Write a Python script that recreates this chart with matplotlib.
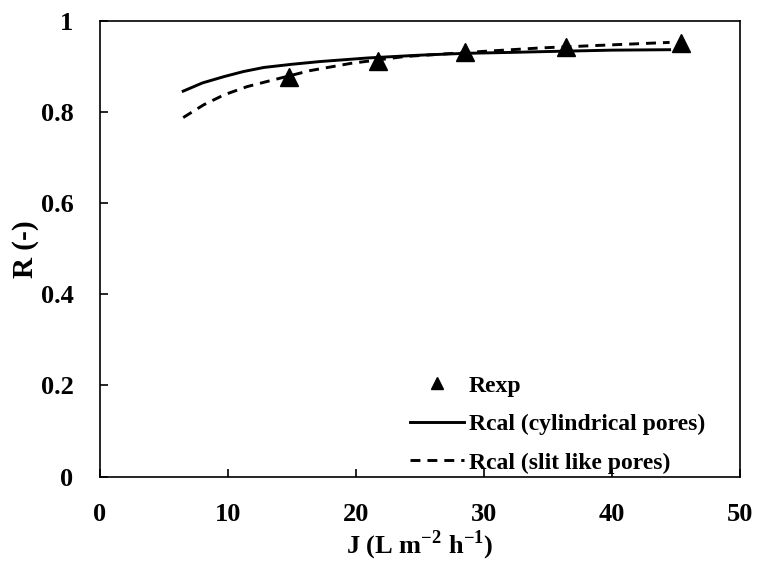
import matplotlib
matplotlib.use("Agg")
import matplotlib.pyplot as plt

# experimental rejection vs flux
j_exp = [14.8, 21.7, 28.5, 36.4, 45.4]
r_exp = [0.878, 0.913, 0.933, 0.944, 0.951]

# model, cylindrical pores
j_cyl = [6.5, 8.0, 9.7, 11.2, 12.8, 15.0, 17.2, 21.0, 25.0, 28.5, 32.0, 35.0, 40.0, 44.5]
r_cyl = [0.846, 0.864, 0.878, 0.889, 0.898, 0.905, 0.911, 0.919, 0.925, 0.929, 0.931, 0.933, 0.936, 0.937]

# model, slit like pores
j_slit = [6.5, 8.1, 9.7, 11.5, 13.3, 16.4, 19.6, 23.8, 29.8, 34.5, 38.6, 44.5]
r_slit = [0.788, 0.816, 0.838, 0.856, 0.869, 0.891, 0.907, 0.922, 0.933, 0.941, 0.946, 0.953]

xticks = [0, 10, 20, 30, 40, 50]
yticks = [0, 0.2, 0.4, 0.6, 0.8, 1]
yticklabels = ["0", "0.2", "0.4", "0.6", "0.8", "1"]

plt.rcParams['font.family'] = ['Liberation Serif', 'DejaVu Serif']
plt.rcParams['font.weight'] = 'bold'
plt.rcParams['mathtext.fontset'] = 'custom'
plt.rcParams['mathtext.rm'] = 'Liberation Serif:bold'

fig = plt.figure(figsize=(7.58, 5.61), dpi=100)
ax = fig.add_axes([100 / 758, 1 - 476.5 / 561, 640 / 758, 455.5 / 561])

ax.plot(j_exp, r_exp, linestyle='none', marker='^', markersize=13.5,
        color='black', label='Rexp', zorder=3)
ax.plot(j_cyl, r_cyl, color='black', linewidth=2.1,
        label='Rcal (cylindrical pores)')
ax.plot(j_slit, r_slit, color='black', linewidth=2.1, dashes=(3.4, 2.4),
        label='Rcal (slit like pores)')

ax.set_xlim(0, 50)
ax.set_ylim(0, 1)
ax.set_xticks(xticks)
ax.set_yticks(yticks)
ax.set_yticklabels(yticklabels)
ax.tick_params(axis='both', direction='in', length=6, width=1.2,
               labelsize=19, pad=19)
for s in ax.spines.values():
    s.set_linewidth(1.2)

ax.set_xlabel(r'J (L m$^{\mathregular{-2}}$ h$^{\mathregular{-1}}$)',
              fontsize=19, fontweight='bold', labelpad=2)
ax.set_ylabel('R (-)', fontsize=21, fontweight='bold', labelpad=1)

leg = ax.legend(loc='upper left', bbox_to_anchor=(410 / 758, 1 - 375 / 561),
                bbox_transform=fig.transFigure, frameon=False, fontsize=17,
                handlelength=2.3, handletextpad=0.2, labelspacing=0.72,
                borderpad=0, borderaxespad=0)
leg.legend_handles[0].set_markersize(8)

fig.savefig('out.png', dpi=100)
